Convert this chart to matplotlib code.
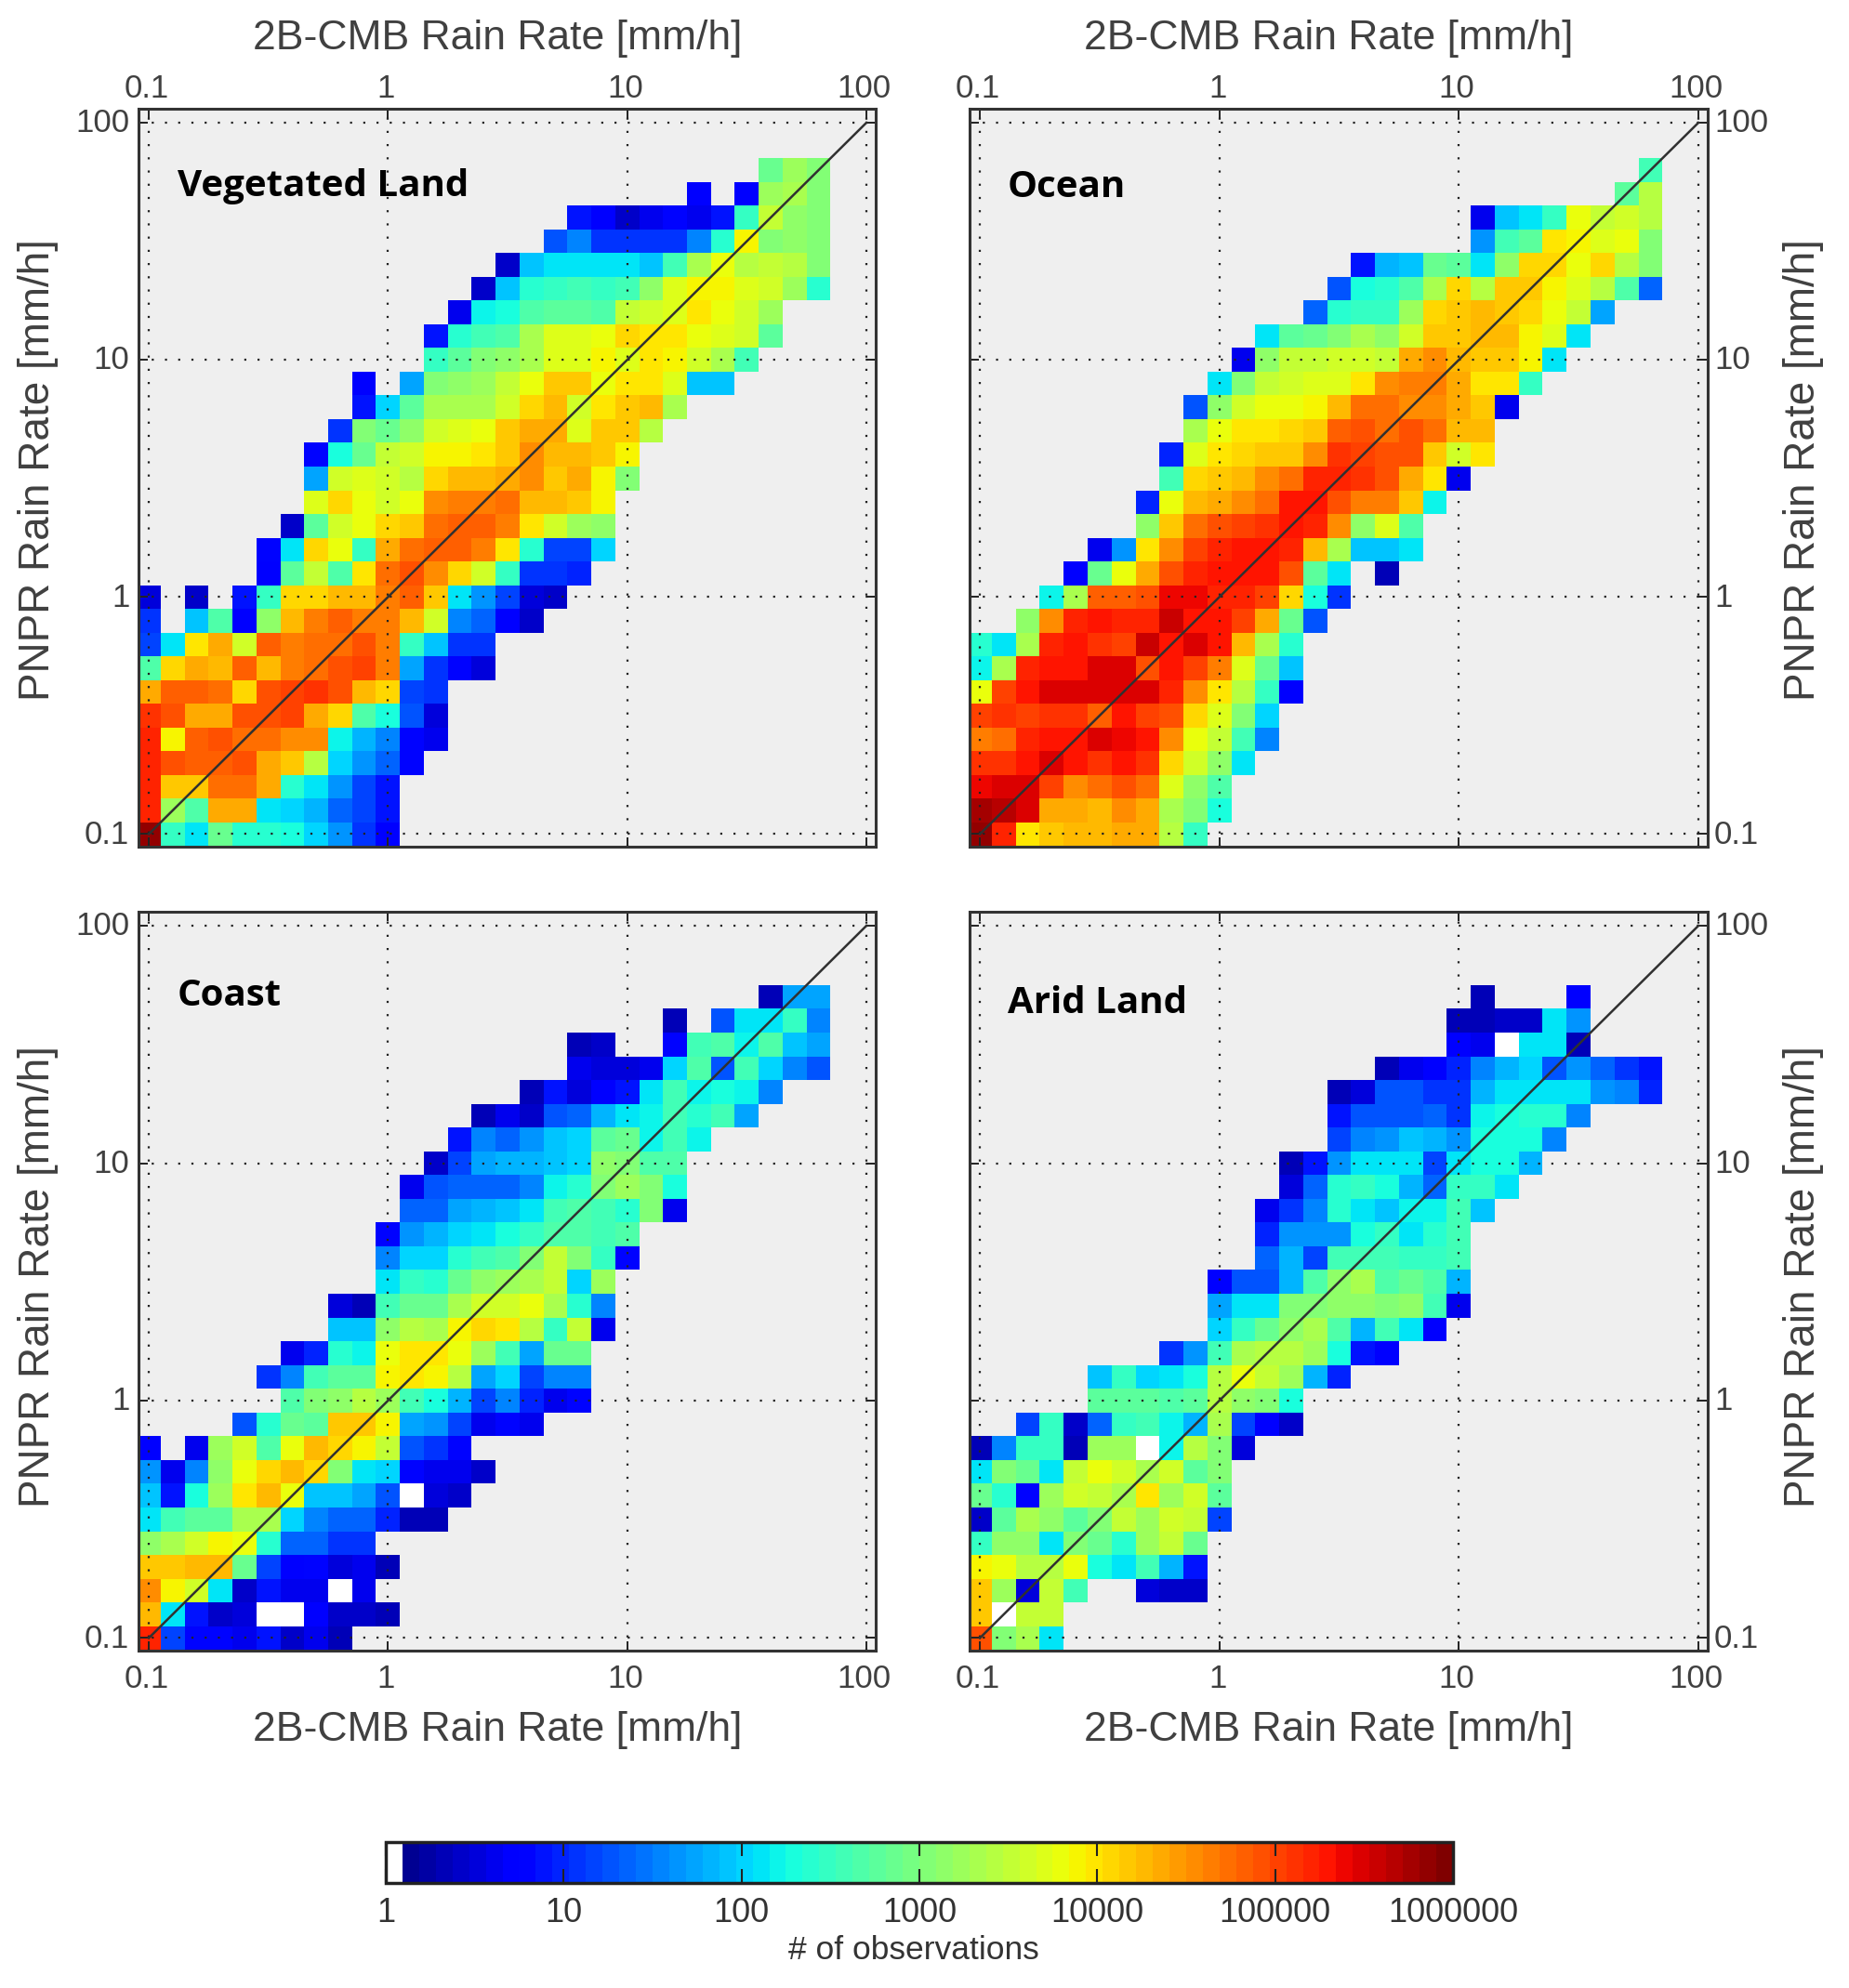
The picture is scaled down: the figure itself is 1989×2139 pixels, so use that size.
import numpy as np
import matplotlib
matplotlib.use('Agg')
import matplotlib.pyplot as plt
from matplotlib.colors import ListedColormap, LogNorm
from matplotlib.ticker import NullLocator
from matplotlib.transforms import ScaledTranslation

W, H = 1990, 2139
plt.rcParams['font.family'] = ['Liberation Sans', 'DejaVu Sans']

# cells are log10(count) x 10, rows from the bottom up, -1 = no data, 0 = empty bin (white)
veg_start = [0]*11 + [5, 5, 6, 7, 7, 7, 8, 9, 9, 12, 12, 13, 14, 15, 17, 18, 23, 26]
veg_cells = [
    [59, 25, 21, 29, 24, 24, 23, 20, 16, 11, 7],
    [52, 32, 27, 44, 44, 21, 20, 18, 14, 12, 9],
    [52, 42, 42, 47, 47, 44, 24, 21, 16, 12, 9],
    [52, 49, 48, 48, 49, 44, 42, 34, 20, 16, 14, 8],
    [52, 39, 48, 49, 47, 47, 45, 45, 22, 18, 15, 8, 6],
    [51, 49, 44, 44, 49, 49, 50, 44, 41, 27, 23, 13, 5],
    [44, 48, 48, 47, 41, 49, 50, 51, 49, 43, 41, 12, 11],
    [27, 41, 44, 43, 48, 43, 46, 47, 49, 50, 46, 17, 11, 8, 5],
    [12, 21, 40, 44, 36, 48, 46, 47, 47, 49, 46, 25, 19, 11, 11],
    [11, -1, 19, 27, 7, 31, 43, 46, 48, 46, 46, 43, 36, 15, 14, 7, 4],
    [5, -1, 4, -1, 9, 25, 41, 41, 43, 43, 46, 48, 42, 21, 16, 12, 5, 4],
    [7, 28, 35, 27, 40, 47, 49, 45, 41, 36, 25, 11, 11, 10],
    [8, 21, 41, 38, 25, 44, 47, 48, 48, 46, 40, 24, 12, 12, 20],
    [4, 28, 36, 38, 41, 42, 47, 48, 48, 46, 40, 36, 32, 31],
    [37, 41, 38, 36, 38, 45, 46, 46, 47, 43, 43, 42, 39],
    [17, 36, 37, 36, 34, 41, 43, 43, 44, 45, 42, 44, 39, 30],
    [8, 23, 29, 35, 36, 39, 39, 40, 42, 45, 43, 43, 42, 39],
    [11, 30, 29, 31, 36, 37, 38, 42, 44, 44, 37, 42, 42, 34],
    [9, 20, 28, 33, 33, 33, 36, 41, 43, 36, 40, 42, 43, 33],
    [7, -1, 17, 30, 31, 32, 35, 38, 42, 42, 38, 40, 40, 37, 19, 19],
    [25, 28, 30, 31, 33, 37, 37, 39, 37, 40, 39, 36, 33, 26],
    [9, 24, 26, 27, 33, 37, 37, 38, 41, 40, 40, 38, 37, 36, 28],
    [6, 22, 23, 27, 28, 28, 27, 35, 36, 37, 40, 38, 36, 32],
    [4, 19, 24, 25, 26, 25, 26, 31, 37, 39, 39, 37, 36, 32, 24],
    [4, 19, 21, 21, 21, 21, 19, 26, 33, 38, 34, 35, 34, 30],
    [13, 15, 11, 11, 11, 11, 15, 24, 39, 30, 31, 30],
    [9, 7, 4, 6, 8, 6, 9, 25, 35, 31, 30],
    [7, -1, 7, 32, 33, 30],
    [29, 32, 30],
]

ocean_start = [0]*9 + [2, 3, 4, 5, 7, 7, 8, 8, 9, 9, 10, 11, 12, 14, 15, 16, 21, 21, 27, 28]
ocean_cells = [
    [59, 52, 40, 42, 43, 43, 44, 44, 34, 25],
    [58, 57, 55, 44, 44, 43, 45, 44, 33, 30, 23],
    [54, 55, 55, 50, 45, 47, 49, 47, 37, 31, 27],
    [51, 51, 53, 55, 53, 51, 53, 51, 41, 36, 31, 21],
    [46, 47, 52, 53, 53, 55, 54, 53, 45, 38, 35, 26, 15],
    [50, 51, 50, 51, 51, 48, 53, 50, 49, 41, 37, 30, 20],
    [38, 50, 53, 55, 55, 55, 55, 55, 52, 45, 40, 34, 25, 7],
    [22, 33, 52, 53, 53, 55, 55, 49, 53, 50, 46, 37, 29, 19],
    [24, 21, 33, 52, 53, 51, 50, 56, 53, 55, 53, 43, 33, 24],
    [31, 45, 52, 53, 52, 52, 56, 53, 53, 50, 44, 29, 13],
    [22, 33, 48, 48, 49, 54, 54, 52, 52, 50, 41, 23, 11],
    [7, 29, 38, 44, 49, 52, 53, 53, 53, 49, 28, 21, -1, 3],
    [6, 16, 40, 45, 50, 52, 53, 53, 52, 43, 33, 19, 19, 21],
    [31, 42, 47, 49, 50, 51, 53, 52, 45, 31, 37, 27],
    [10, 38, 43, 44, 45, 47, 53, 53, 49, 46, 46, 42, 22],
    [26, 41, 42, 43, 45, 47, 52, 52, 51, 49, 44, 40, 6],
    [10, 37, 40, 41, 42, 42, 45, 51, 50, 49, 49, 42, 36, 40],
    [33, 38, 40, 40, 41, 42, 48, 49, 47, 49, 47, 43, 43],
    [13, 31, 36, 38, 38, 39, 43, 47, 47, 45, 45, 44, 42, 6],
    [21, 30, 35, 36, 37, 37, 40, 45, 46, 46, 44, 40, 40, 25],
    [6, 31, 35, 35, 36, 36, 35, 44, 45, 43, 42, 42, 39, 21],
    [21, 28, 29, 30, 33, 31, 36, 42, 42, 43, 43, 39, 37, 21],
    [14, 24, 25, 25, 32, 41, 42, 43, 42, 41, 38, 35, 17],
    [13, 23, 24, 27, 33, 41, 34, 42, 42, 39, 37, 34, 27, 14],
    [9, 18, 19, 29, 28, 21, 31, 41, 41, 38, 41, 34, 30],
    [16, 26, 28, 40, 39, 37, 38, 30],
    [6, 19, 21, 25, 38, 35, 36, 34],
    [28, 34],
    [26],
]

coast_start = [0]*9 + [4, 6, 5, 6, 8, 8, 10, 10, 10, 11, 11, 12, 13, 14, 16, 18, 18, 22, 26]
coast_cells = [
    [52, 12, 8, 8, 6, 9, 4, 6, 3],
    [43, 21, 9, 4, 5, 0, 0, 7, 4, 4, 3],
    [45, 39, 36, 21, 4, 9, 6, 6, 0, 6],
    [42, 42, 43, 43, 29, 12, 7, 8, 5, 6, 3],
    [31, 33, 36, 39, 38, 24, 14, 14, 11, 11],
    [21, 26, 28, 28, 33, 33, 20, 15, 14, 14, 10, 3, 3],
    [19, 9, 23, 32, 40, 43, 38, 19, 19, 17, 13, 0, 5, 4],
    [16, 6, 15, 31, 38, 41, 43, 41, 30, 21, 20, 8, 6, 6, 4],
    [7, -1, 6, 32, 36, 27, 38, 43, 41, 39, 35, 13, 11, 8],
    [13, 24, 29, 28, 42, 42, 39, 17, 16, 12, 6, 8, 6],
    [27, 30, 31, 34, 32, 26, 23, 18, 12, 15, 10, 6, 8],
    [11, 15, 26, 28, 28, 39, 40, 39, 34, 17, 20, 12, 15, 15],
    [6, 10, 24, 22, 38, 40, 40, 38, 32, 26, 17, 29, 29],
    [19, 19, 31, 34, 33, 39, 41, 40, 34, 25, 35, 6],
    [5, 3, 26, 29, 29, 33, 36, 36, 38, 33, 24, 15],
    [21, 25, 24, 29, 31, 32, 33, 35, 20, 32],
    [15, 20, 20, 24, 26, 27, 30, 35, 30, 25, 8],
    [8, 16, 18, 20, 21, 23, 25, 27, 27, 26, 27],
    [14, 14, 17, 18, 19, 21, 26, 27, 26, 24, 30, 6],
    [6, 13, 14, 14, 14, 15, 22, 24, 30, 32, 30, 23],
    [4, 12, 17, 18, 18, 19, 20, 31, 30, 27, 27],
    [9, 15, 14, 16, 19, 20, 28, 29, 22, 26, 22],
    [3, 6, 4, 13, 14, 18, 21, 22, 26, 24, 26, 17],
    [3, 9, 5, 7, 9, 21, 26, 22, 23, 22, 15],
    [6, 5, 5, 6, 20, 27, 13, 26, 20, 15, 13],
    [3, 4, -1, -1, 8, 26, 27, 22, 27, 19, 17],
    [3, -1, 13, 21, 21, 25, 15],
    [3, 17, 17],
]

arid_start = [0]*9 + [2, 5, 5, 8, 10, 10, 10, 12, 12, 12, 13, 13, 15, 15, 15, 17, 20, 20, 21]
arid_cells = [
    [49, 30, 33, 21],
    [42, 0, 35, 35],
    [42, 32, 5, 35, 26, -1, -1, 5, 4, 4],
    [39, 38, 34, 34, 38, 23, 21, 26, 18, 9],
    [25, 31, 31, 21, 30, 29, 24, 32, 35, 29],
    [4, 28, 33, 31, 28, 30, 35, 32, 36, 35, 12],
    [29, 24, 8, 32, 36, 35, 33, 40, 32, 36, 28],
    [21, 30, 29, 21, 35, 38, 36, 33, 36, 28, 30],
    [3, 15, 25, 25, 3, 32, 32, 0, 22, 34, 30, 5],
    [12, 25, 4, 14, 25, 26, 22, 18, 33, 12, 7, 4],
    [28, 28, 28, 27, 28, 34, 31, 30, 23],
    [19, 25, 20, 21, 23, 34, 38, 35, 32, 18, 10],
    [11, 16, 26, 33, 34, 34, 32, 23, 9, 7],
    [20, 25, 29, 31, 33, 27, 18, 26, 21, 7],
    [17, 21, 21, 30, 30, 31, 31, 30, 31, 26, 6],
    [7, 13, 13, 18, 27, 31, 33, 27, 29, 27, 18],
    [14, 18, 12, 26, 26, 26, 25, 25, 26],
    [10, 16, 16, 16, 23, 25, 21, 24, 26],
    [6, 11, 15, 24, 21, 19, 22, 22, 26, 19],
    [5, 14, 24, 25, 23, 18, 14, 25, 25, 21],
    [3, 9, 16, 21, 21, 21, 12, 21, 23, 23, 18],
    [12, 15, 16, 19, 18, 16, 23, 23, 23, 15],
    [9, 13, 13, 13, 14, 11, 22, 23, 24, 24, 15],
    [3, 5, 13, 13, 11, 11, 18, 21, 21, 21, 21, 16, 15, 10],
    [3, 6, 7, 10, 15, 18, 20, 13, 16, 14, 11, 9],
    [7, 6, 0, 21, 21, 3],
    [3, 3, 4, 4, 21, 16],
    [3, -1, -1, -1, 7],
]

panel_names = ['Vegetated Land', 'Ocean', 'Coast', 'Arid Land']
rain_ticks = [0.1, 1, 10, 100]
rain_labels = ['0.1', '1', '10', '100']
cbar_ticks = [1, 10, 100, 1000, 10000, 100000, 1000000]
cbar_labels = ['1', '10', '100', '1000', '10000', '100000', '1000000']

GREY = '#404040'
colors = plt.get_cmap('jet', 64)(np.arange(64))
colors[0] = [1, 1, 1, 1]
cmap = ListedColormap(colors)
cmap.set_bad('#efefef')
norm = LogNorm(1, 1e6)
edges = 10 ** (-1.05 + 0.1 * np.arange(32))


def Grid(start, cells):
    # turn the rows into a 31x31 count array, nan where there is no data
    z = np.full((31, 31), np.nan)
    for r, row in enumerate(cells):
        for i, v in enumerate(row):
            if v >= 0:
                z[r, start[r] + i] = 10 ** (v / 10)
    return z


def PxAxes(left, right, top, bottom):
    return fig.add_axes([left / W, 1 - bottom / H, (right - left) / W, (bottom - top) / H])


def Panel(box, start, cells, name, name_x, name_y, top_row, left_col):
    ax = PxAxes(*box)
    ax.set_facecolor('#efefef')
    ax.pcolormesh(edges, edges, np.ma.masked_invalid(Grid(start, cells)), cmap=cmap, norm=norm)
    ax.set_xscale('log')
    ax.set_yscale('log')
    ax.set_xlim(10 ** -1.043, 10 ** 2.039)
    ax.set_ylim(10 ** -1.053, 10 ** 2.059)
    ax.plot([0.1, 100], [0.1, 100], color='#303030', lw=1.8)
    ax.set_xticks(rain_ticks, rain_labels)
    ax.set_yticks(rain_ticks, rain_labels)
    ax.xaxis.set_minor_locator(NullLocator())
    ax.yaxis.set_minor_locator(NullLocator())
    ax.grid(True, which='major', color='#222222', lw=1.6, linestyle=(0, (1, 5.4)))
    ax.tick_params(which='major', direction='in', length=7, width=1.4, color='#222222',
                   top=True, bottom=True, left=True, right=True,
                   labeltop=top_row, labelbottom=not top_row,
                   labelleft=left_col, labelright=not left_col,
                   labelsize=25, labelcolor=GREY)
    ax.tick_params(axis='x', pad=3.5 if top_row else 10)
    ax.tick_params(axis='y', pad=7 if left_col else 5)
    # tick labels sit a little off their ticks in the original
    up = ScaledTranslation(0, 2 / 72, fig.dpi_scale_trans)
    left = ScaledTranslation(-1.5 / 72, 0, fig.dpi_scale_trans)
    for lab in ax.get_yticklabels():
        lab.set_transform(lab.get_transform() + up)
    for lab in ax.get_xticklabels():
        lab.set_transform(lab.get_transform() + left)
    for s in ax.spines.values():
        s.set_linewidth(2.2)
        s.set_color('#333333')
    fig.text(name_x / W, 1 - name_y / H, name, family='Open Sans', weight='bold',
             fontsize=29, color='black', ha='left', va='center')
    return ax


fig = plt.figure(figsize=(W / 100, H / 100), dpi=100)

Panel((149, 942, 117, 911), veg_start, veg_cells, panel_names[0], 191, 201, True, True)
Panel((1043, 1837, 117, 911), ocean_start, ocean_cells, panel_names[1], 1084, 201, True, False)
Panel((149, 942, 981, 1776), coast_start, coast_cells, panel_names[2], 191, 1071, False, True)
Panel((1043, 1837, 981, 1776), arid_start, arid_cells, panel_names[3], 1084, 1079, False, False)

for cx in [535, 1429]:
    fig.text(cx / W, 1 - 42 / H, '2B-CMB Rain Rate [mm/h]', fontsize=32, color=GREY,
             ha='center', va='center')
    fig.text(cx / W, 1 - 1861 / H, '2B-CMB Rain Rate [mm/h]', fontsize=32, color=GREY,
             ha='center', va='center')
for cy in [506, 1374]:
    fig.text(41 / W, 1 - cy / H, 'PNPR Rain Rate [mm/h]', fontsize=33, color=GREY,
             rotation=90, ha='center', va='center')
    fig.text(1940 / W, 1 - cy / H, 'PNPR Rain Rate [mm/h]', fontsize=33, color=GREY,
             rotation=90, ha='center', va='center')

cax = PxAxes(415, 1563, 1982, 2026)
cb = fig.colorbar(plt.cm.ScalarMappable(norm=norm, cmap=cmap), cax=cax, orientation='horizontal')
cb.set_ticks(cbar_ticks, labels=cbar_labels)
cb.minorticks_off()
cb.outline.set_linewidth(2.5)
cb.outline.set_edgecolor('#222222')
cax.tick_params(which='major', direction='in', length=11, width=1.5, color='#222222',
                top=True, bottom=True, labelsize=26, labelcolor='#333333', pad=11)
fig.text(983 / W, 1 - 2099 / H, '# of observations', fontsize=25.5, color='#333333',
         ha='center', va='center')

fig.savefig('out.png', dpi=100)
